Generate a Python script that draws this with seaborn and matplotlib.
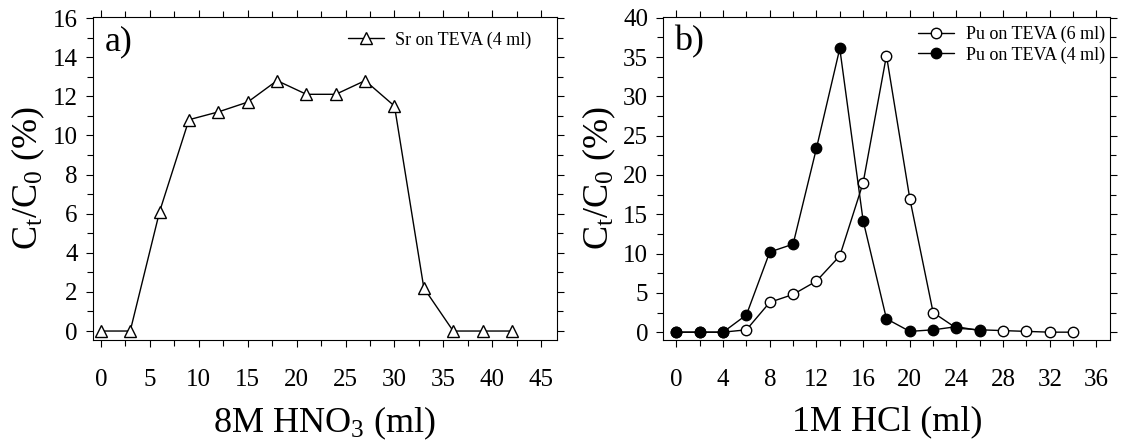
import numpy as np
import pandas as pd
import seaborn as sns
import matplotlib.pyplot as plt
from matplotlib.ticker import MultipleLocator

# Panel a: Sr on TEVA, 8M HNO3
sr_x = [0, 3, 6, 9, 12, 15, 18, 21, 24, 27, 30, 33, 36, 39, 42]
sr_y = [0, 0, 6.1, 10.8, 11.2, 11.7, 12.8, 12.1, 12.1, 12.8, 11.5, 2.2, 0, 0, 0]

# Panel b: Pu on TEVA, 1M HCl
pu6_x = [0, 2, 4, 6, 8, 10, 12, 14, 16, 18, 20, 22, 24, 26, 28, 30, 32, 34]
pu6_y = [0, 0, 0, 0.3, 3.8, 4.8, 6.5, 9.7, 19.0, 35.2, 17.0, 2.5, 0.5, 0.3, 0.2, 0.1, 0, 0]
pu4_x = [0, 2, 4, 6, 8, 10, 12, 14, 16, 18, 20, 22, 24, 26]
pu4_y = [0, 0, 0, 2.2, 10.2, 11.2, 23.4, 36.1, 14.2, 1.7, 0.1, 0.3, 0.7, 0.2]

sns.set_style("ticks")
plt.rcParams['font.family'] = ['Liberation Serif', 'DejaVu Serif']
plt.rcParams['mathtext.fontset'] = 'custom'
plt.rcParams['mathtext.rm'] = 'Liberation Serif'
plt.rcParams['mathtext.it'] = 'Liberation Serif'
plt.rcParams['text.color'] = 'black'
plt.rcParams['axes.labelcolor'] = 'black'
plt.rcParams['xtick.color'] = 'black'
plt.rcParams['ytick.color'] = 'black'

fig = plt.figure(figsize=(11.32, 4.48), dpi=100)
ax1 = fig.add_axes([0.082, 0.241, 0.410, 0.721])
ax2 = fig.add_axes([0.586, 0.241, 0.395, 0.721])

df_a = pd.DataFrame({'x': sr_x, 'y': sr_y})
sns.lineplot(data=df_a, x='x', y='y', ax=ax1, color='black', lw=1,
             marker='^', markersize=8, markerfacecolor='white',
             markeredgecolor='black', markeredgewidth=1,
             label='Sr on TEVA (4 ml)')

df6 = pd.DataFrame({'x': pu6_x, 'y': pu6_y})
df4 = pd.DataFrame({'x': pu4_x, 'y': pu4_y})
sns.lineplot(data=df6, x='x', y='y', ax=ax2, color='black', lw=1,
             marker='o', markersize=7.5, markerfacecolor='white',
             markeredgecolor='black', markeredgewidth=1,
             label='Pu on TEVA (6 ml)')
sns.lineplot(data=df4, x='x', y='y', ax=ax2, color='black', lw=1,
             marker='o', markersize=7.5, markerfacecolor='black',
             markeredgecolor='black', markeredgewidth=1,
             label='Pu on TEVA (4 ml)')

ax1.set_xlim(-0.82, 46.6)
ax1.set_ylim(-0.46, 16.05)
ax1.xaxis.set_major_locator(MultipleLocator(5))
ax1.xaxis.set_minor_locator(MultipleLocator(2.5))
ax1.yaxis.set_major_locator(MultipleLocator(2))
ax1.yaxis.set_minor_locator(MultipleLocator(1))
ax1.set_xlabel(r'8M HNO$_\mathrm{3}$ (ml)', fontsize=26, labelpad=10)

ax2.set_xlim(-1.12, 37.2)
ax2.set_ylim(-1.0, 40.1)
ax2.xaxis.set_major_locator(MultipleLocator(4))
ax2.xaxis.set_minor_locator(MultipleLocator(2))
ax2.yaxis.set_major_locator(MultipleLocator(5))
ax2.yaxis.set_minor_locator(MultipleLocator(2.5))
ax2.set_xlabel('1M HCl (ml)', fontsize=26, labelpad=10)

legend_pos = {ax1: (0.961, 0.978), ax2: (1.004, 0.994)}
for ax, tag in [(ax1, 'a)'), (ax2, 'b)')]:
    ax.set_ylabel(r'C$_\mathrm{t}$/C$_\mathrm{0}$ (%)', fontsize=26, labelpad=4)
    ax.tick_params(axis='both', which='major', labelsize=18, length=5,
                   width=0.8, direction='out')
    ax.tick_params(axis='x', which='major', pad=16)
    ax.tick_params(axis='y', which='major', pad=6)
    ax.tick_params(axis='both', which='minor', length=4, width=0.8,
                   direction='out')
    ax.tick_params(which='both', top=True, right=True)
    for sp in ax.spines.values():
        sp.set_linewidth(0.8)
        sp.set_color('black')
    ax.text(0.025, 0.975, tag, transform=ax.transAxes, fontsize=26,
            va='top', ha='left')
    ax.legend(loc='upper right', bbox_to_anchor=legend_pos[ax],
              frameon=False, fontsize=13, borderaxespad=0,
              handlelength=2.0, labelspacing=0.15, handletextpad=0.65)

fig.savefig('out.png', dpi=100)
